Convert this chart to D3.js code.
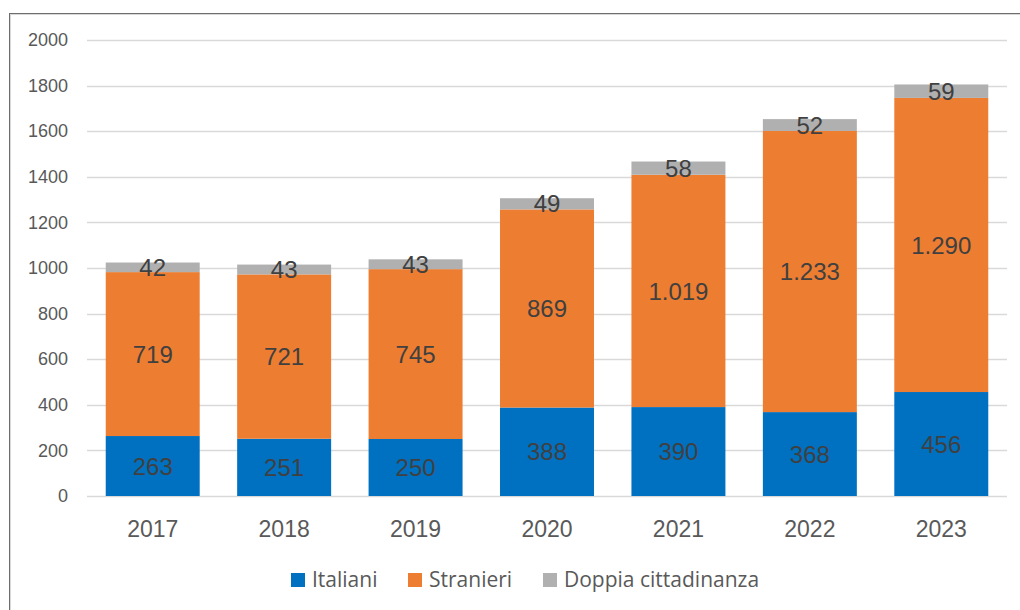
<!DOCTYPE html>
<html><head><meta charset="utf-8">
<script src="https://cdn.jsdelivr.net/npm/d3@7"></script>
<style>body{margin:0;background:#fff;} svg{display:block;}</style>
</head><body>
<svg id="c" width="1020" height="610"></svg>
<script>
const years = ["2017","2018","2019","2020","2021","2022","2023"];
const italiani = [263,251,250,388,390,368,456];
const stranieri = [719,721,745,869,1019,1233,1290];
const doppia = [42,43,43,49,58,52,59];
const seriesNames = ["Italiani","Stranieri","Doppia cittadinanza"];
const colors = ["#0070C0","#ED7D31","#B0B0B0"];
const yTicks = [0,200,400,600,800,1000,1200,1400,1600,1800,2000];

const svg = d3.select("#c");
// frame
svg.append("line").attr("x1",9.5).attr("x2",9.5).attr("y1",13).attr("y2",610).attr("stroke","#6e6e6e");
svg.append("line").attr("x1",10.5).attr("x2",10.5).attr("y1",14).attr("y2",610).attr("stroke","#d8d8d8");
svg.append("line").attr("x1",9).attr("x2",1020).attr("y1",13.5).attr("y2",13.5).attr("stroke","#6e6e6e");
svg.append("line").attr("x1",10).attr("x2",1020).attr("y1",14.5).attr("y2",14.5).attr("stroke","#d8d8d8");

const x = d3.scaleBand().domain(years).range([87,1007]).paddingInner(0.285).paddingOuter(0.1425);
const y = d3.scaleLinear().domain([0,2000]).range([496,40]);

// grid
svg.append("g").selectAll("line").data(yTicks).join("line")
  .attr("x1",87).attr("x2",1007).attr("y1",d=>Math.round(y(d))+0.5).attr("y2",d=>Math.round(y(d))+0.5)
  .attr("stroke","#d9d9d9").attr("stroke-width",1.5);

// y axis labels
const yAxis = d3.axisLeft(y).tickValues(yTicks).tickSize(0).tickPadding(0).tickFormat(d3.format("d"));
const ya = svg.append("g").attr("transform","translate(68,0)").call(yAxis);
ya.select(".domain").remove();
ya.selectAll("text").attr("fill","#595959").attr("font-size","18px").attr("font-family","Liberation Sans, Arial, sans-serif");

// x axis labels
const xAxis = d3.axisBottom(x).tickSize(0).tickPadding(0);
const xa = svg.append("g").attr("transform","translate(0,521)").call(xAxis);
xa.select(".domain").remove();
xa.selectAll("text").attr("fill","#595959").attr("font-size","23px").attr("font-family","Liberation Sans, Arial, sans-serif");

// stack
const rows = years.map((yr,i)=>({year:yr, s0:italiani[i], s1:stranieri[i], s2:doppia[i]}));
const stack = d3.stack().keys(["s0","s1","s2"])(rows);
const g = svg.append("g");
stack.forEach((layer,k)=>{
  g.append("g").selectAll("rect").data(layer).join("rect")
    .attr("x",d=>x(d.data.year)).attr("width",x.bandwidth())
    .attr("y",d=>y(d[1])).attr("height",d=>y(d[0])-y(d[1]))
    .attr("fill",colors[k]);
});
const fmt = v => v>=1000 ? d3.format(",")(v).replace(/,/g,".") : String(v);
stack.forEach((layer,k)=>{
  g.append("g").selectAll("text").data(layer).join("text")
    .attr("x",d=>x(d.data.year)+x.bandwidth()/2)
    .attr("y",d=>(y(d[0])+y(d[1]))/2)
    .attr("dy","0.36em")
    .attr("text-anchor","middle")
    .attr("font-size","24px").attr("font-family","Liberation Sans, Arial, sans-serif")
    .attr("fill","#404040")
    .text(d=>fmt(d.data[layer.key]));
});

// legend
const legX = [291,408,543];
const leg = svg.append("g");
seriesNames.forEach((n,i)=>{
  leg.append("rect").attr("x",legX[i]).attr("y",573).attr("width",14).attr("height",14).attr("fill",colors[i]);
  leg.append("text").attr("x",legX[i]+21).attr("y",587).attr("font-size","21px")
    .attr("font-family","Open Sans, sans-serif").attr("fill","#595959").text(n);
});
</script>
</body></html>
